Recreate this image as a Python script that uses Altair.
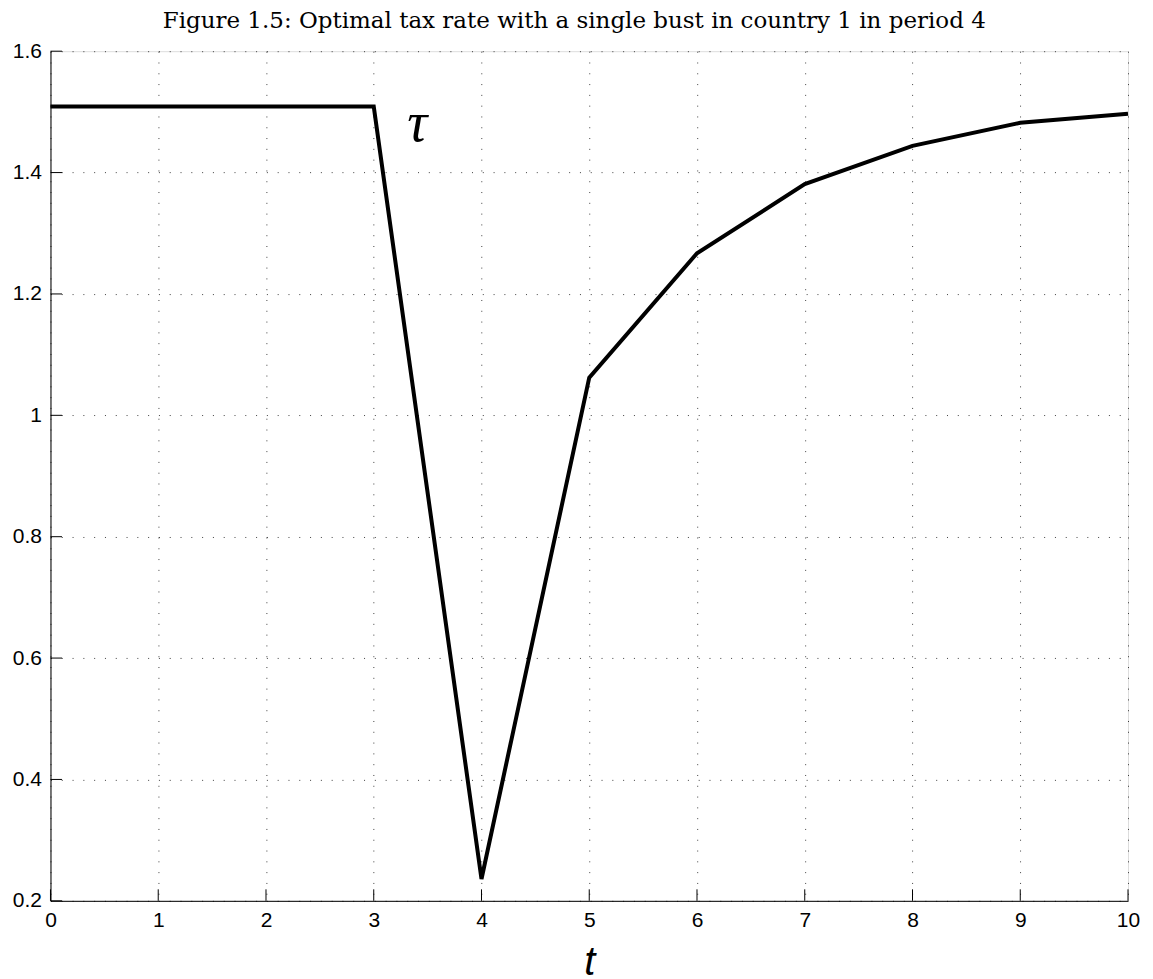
import altair as alt
import pandas as pd

# data
t_vals = [0, 1, 2, 3, 4, 5, 6, 7, 8, 9, 10]
tau_vals = [1.509, 1.509, 1.509, 1.509, 0.236, 1.062, 1.267, 1.381, 1.444, 1.482, 1.497]
x_ticks = [0, 1, 2, 3, 4, 5, 6, 7, 8, 9, 10]
y_ticks = [0.2, 0.4, 0.6, 0.8, 1.0, 1.2, 1.4, 1.6]
label_x = [3.405]
label_y = [1.452]
label_text = ["τ"]
title_text = "Figure 1.5: Optimal tax rate with a single bust in country 1 in period 4"

line_df = pd.DataFrame({"t": t_vals, "tau": tau_vals})
xt_df = pd.DataFrame({"t": x_ticks})
yt_df = pd.DataFrame({"v": y_ticks})
lab_df = pd.DataFrame({"x": label_x, "y": label_y, "s": label_text})

xscale = alt.Scale(domain=[0, 10], nice=False, zero=False)
yscale = alt.Scale(domain=[0.2, 1.6], nice=False, zero=False)

common = dict(grid=True, gridDash=[1, 9.8], gridColor="#000", gridOpacity=0.75, gridWidth=1,
              tickSize=0, labelFont="Liberation Sans", labelFontSize=21, labelColor="#000",
              labelPadding=9, labelFlush=False, domainColor="#000", domainWidth=1)

x_axis = alt.Axis(values=x_ticks, format="~g", title="t", titleFont="Liberation Sans",
                  titleFontStyle="italic", titleFontSize=40, titleFontWeight="normal",
                  titleColor="#000", titlePadding=12, **common)
y_axis = alt.Axis(values=y_ticks, format="~g", title=None, **common)

line = alt.Chart(line_df).mark_line(color="black", strokeWidth=4, strokeJoin="miter").encode(
    x=alt.X("t:Q", scale=xscale, axis=x_axis),
    y=alt.Y("tau:Q", scale=yscale, axis=y_axis),
)

xticks = alt.Chart(xt_df).mark_rule(color="black", strokeWidth=1).encode(
    x=alt.X("t:Q", scale=xscale),
    y=alt.value(850),
    y2=alt.value(838.5),
)
yticks = alt.Chart(yt_df).mark_rule(color="black", strokeWidth=1).encode(
    y=alt.Y("v:Q", scale=yscale),
    x=alt.value(0),
    x2=alt.value(11.5),
)

label = alt.Chart(lab_df).mark_text(font="Liberation Serif", fontStyle="italic", fontSize=56,
                                    align="center", baseline="alphabetic", color="black").encode(
    x=alt.X("x:Q", scale=xscale),
    y=alt.Y("y:Q", scale=yscale),
    text="s:N",
)

chart = alt.layer(line, xticks, yticks, label).properties(
    width=1078,
    height=850,
    autosize=alt.AutoSizeParams(type="none"),
    padding={"left": 42.5, "top": 43, "right": 17, "bottom": 75},
    title=alt.TitleParams(text=title_text, font="DejaVu Serif", fontSize=23, fontWeight="normal",
                          color="#000", anchor="middle", frame="group", offset=7, dx=-15),
).configure_view(strokeOpacity=0).configure(background="white")

chart.save("out.html", embed_options={"renderer": "svg", "actions": False})
